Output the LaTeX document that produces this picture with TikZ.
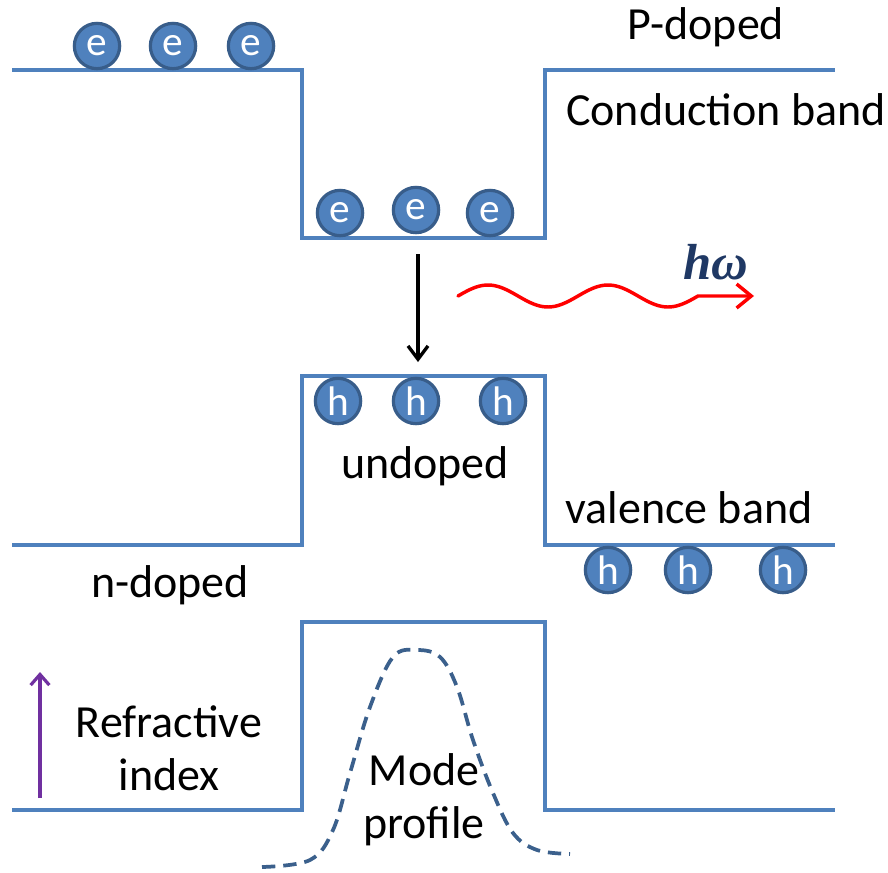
\documentclass[tikz,border=0pt]{standalone}
\usepackage{fontspec}
\setmainfont{Carlito}
\newfontfamily\hwfont{Liberation Serif}
\usetikzlibrary{arrows.meta}
\definecolor{band}{RGB}{79,129,189}
\definecolor{carrierfill}{RGB}{79,129,189}
\definecolor{carrieredge}{RGB}{56,93,138}
\definecolor{modeblue}{RGB}{59,96,140}
\definecolor{hwblue}{RGB}{31,56,100}
\definecolor{idxpurple}{RGB}{112,48,160}
\begin{document}
\begin{tikzpicture}[x=0.75pt,y=-0.75pt,
  bandline/.style={draw=band,line width=2.7pt},
  carrier/.style={circle,fill=carrierfill,draw=carrieredge,line width=2.4pt,minimum size=34pt,inner sep=0pt,text=white,font=\fontsize{31}{31}\selectfont},
  lbl/.style={font=\fontsize{34.5}{40}\selectfont,align=center,inner sep=0pt}]
\useasboundingbox (0,0) rectangle (888,872);
% conduction band
\draw[bandline] (12,70) -- (302,70) -- (302,238) -- (545,238) -- (545,70) -- (835,70);
% valence band
\draw[bandline] (12,545) -- (302,545) -- (302,376) -- (545,376) -- (545,545) -- (835,545);
% refractive index
\draw[bandline] (12,810) -- (302,810) -- (302,622) -- (545,622) -- (545,810) -- (835,810);
% electrons
\node[carrier] (e1) at (97,46) {e};
\node[carrier] (e2) at (173,46) {e};
\node[carrier] (e3) at (251,46) {e};
\node[carrier] (e4) at (340,213) {e};
\node[carrier] (e5) at (416,210) {e};
\node[carrier] (e6) at (490,213) {e};
% holes
\node[carrier] (h1) at (338,401) {h};
\node[carrier] (h2) at (416,401) {h};
\node[carrier] (h3) at (503,401) {h};
\node[carrier] (h4) at (608,570) {h};
\node[carrier] (h5) at (688,570) {h};
\node[carrier] (h6) at (783,570) {h};
% transition arrow
\coordinate (tA) at (418,254);
\coordinate (tB) at (418,362);
\draw[line width=2.5pt,-{Straight Barb[length=10pt,width=15pt,line width=2.5pt]}] (tA) -- (tB);
% photon
\coordinate (wS) at (458,296);
\coordinate (wE) at (754,296);
\draw[red,line width=2.6pt,line cap=round,-{Straight Barb[length=11pt,width=18pt,line width=2.6pt]}]
  plot[domain=458:698,samples=80,smooth] (\x,{296-11*sin((\x-458)*3)}) -- (wE);
\node[text=hwblue,font=\hwfont\bfseries\itshape\fontsize{38}{38}\selectfont,inner sep=0pt] (hw) at (716,262) {hω};
% texts
\node[lbl] (pd) at (706,27) {P-doped};
\node[lbl] (cb) at (726,110) {Conduction band};
\node[lbl] (ud) at (425,466) {undoped};
\node[lbl] (vb) at (689,508) {valence band};
\node[lbl] (nd) at (170,585) {n-doped};
\node[lbl] (ri) at (169,748) {Refractive\\index};
\node[lbl] (mp) at (424,800) {Mode\\profile};
% refractive index arrow
\coordinate (rA) at (40,798);
\coordinate (rB) at (40,672);
\draw[idxpurple,line width=2.4pt,-{Straight Barb[length=8pt,width=14pt,line width=2.4pt]}] (rA) -- (rB);
% mode profile
\draw[modeblue,line width=2.8pt,dash pattern=on 10pt off 6pt]
  plot[smooth,tension=0.6] coordinates {(262,867) (310,860) (333,830) (350,773) (370,707) (393,657) (417,650) (440,657) (457,687) (473,740) (493,793) (513,833) (537,850) (570,854)};
\end{tikzpicture}
\end{document}
